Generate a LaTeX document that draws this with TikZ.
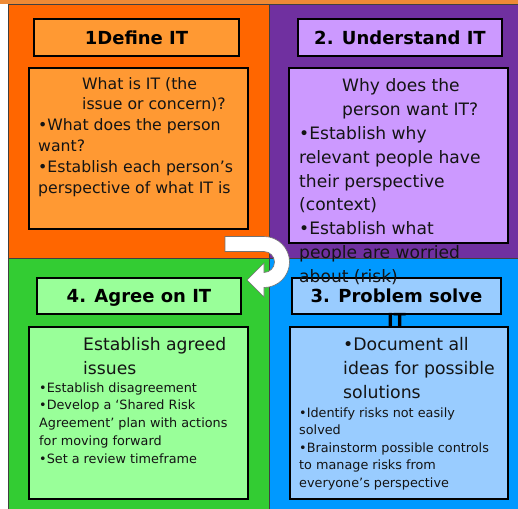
\documentclass[tikz,border=0pt]{standalone}
\usepackage{fontspec}
\setmainfont{DejaVu Sans}
\usetikzlibrary{positioning}

\definecolor{stripe}{HTML}{EE8A35}
\definecolor{orangeq}{HTML}{FF6600}
\definecolor{orangeb}{HTML}{FF9933}
\definecolor{purpleq}{HTML}{7030A0}
\definecolor{purpleb}{HTML}{CC99FF}
\definecolor{greenq}{HTML}{33CC33}
\definecolor{greenb}{HTML}{99FF99}
\definecolor{blueq}{HTML}{0099FF}
\definecolor{blueb}{HTML}{99CCFF}

\begin{document}
\begin{tikzpicture}[
	x=1pt,y=-1pt,
	quad/.style={
	  draw=black!75,
	  line width=1pt,
	  anchor=north west,
	  inner sep=0pt
	},
	titlebox/.style={
	  draw,
	  line width=2.2pt,
	  inner sep=0pt,
	  text height=13.1pt,
	  text depth=0pt,
	  font=\fontsize{18}{22}\selectfont\bfseries
	},
	bodybox/.style={
	  draw,
	  line width=2.2pt,
	  anchor=north west,
	  inner sep=0pt
	},
	txt/.style={
	  anchor=base west,
	  inner sep=0pt,
	  text=black!92
	}
]

\useasboundingbox (0,0) rectangle (518,508);
\fill[white] (0,0) rectangle (518,508);
\fill[stripe] (0,0) rectangle (518,4.5);

% quarters
\node[quad,fill=orangeq,minimum width=261pt,minimum height=254pt] 
  (q1) at (8,4) {};
\node[quad,fill=purpleq,minimum width=250pt,minimum height=254pt] 
  (q2) at (269,4) {};
\node[quad,fill=greenq,minimum width=261pt,minimum height=251pt] 
  (q4) at (8,258) {};
\node[quad,fill=blueq,minimum width=250pt,minimum height=251pt] 
  (q3) at (269,258) {};

% 1 define
\node[titlebox,fill=orangeb,minimum width=205pt,minimum height=37pt] 
  (h1) at (136.5,37.5) {1Define IT};
\node[bodybox,fill=orangeb,minimum width=219pt,minimum height=161pt] 
  (b1) at (28,67) {};
\node[txt] (t1) at (38,89) {\parbox[t]{250pt}{\raggedright
  \fontsize{15.7}{20.8}\selectfont
  \hspace*{44pt}What is IT (the\\
  \hspace*{44pt}issue or concern)?\\
  •What does the person\\
  want?\\
  •Establish each person’s\\
  perspective of what IT is}};

% 2 understand
\node[titlebox,fill=purpleb,minimum width=204pt,minimum height=37pt] 
  (h2) at (400,37.5) {2. Understand IT};
\node[bodybox,fill=purpleb,minimum width=219pt,minimum height=175pt] 
  (b2) at (288,67) {};

% 4 agree
\node[titlebox,fill=greenb,minimum width=204pt,minimum height=36pt] 
  (h4) at (139,296) {4. Agree on IT};
\node[bodybox,fill=greenb,minimum width=219pt,minimum height=172pt] 
  (b4) at (28,326) {};
\node[txt] (t4a) at (83,350) {\parbox[t]{200pt}{\raggedright
  \fontsize{17.2}{24}\selectfont
  Establish agreed\\
  issues}};
\node[txt] (t4b) at (39,392) {\parbox[t]{220pt}{\raggedright
  \fontsize{12.8}{17.8}\selectfont
  •Establish disagreement\\
  •Develop a ‘Shared Risk\\
  Agreement’ plan with actions\\
  for moving forward\\
  •Set a review timeframe}};

% 3 problem solve
\node[titlebox,fill=blueb,minimum width=209pt,minimum height=36pt] 
  (h3) at (396.5,296) {3. Problem solve};
\node[anchor=base,inner sep=0pt,font=\fontsize{18}{22}\selectfont\bfseries] 
  (h3it) at (396.5,326.5) {IT};
\node[bodybox,fill=blueb,minimum width=218pt,minimum height=172pt] 
  (b3) at (289,326) {};
\node[txt] (t3a) at (343,350) {\parbox[t]{200pt}{\raggedright
  \fontsize{17.3}{24}\selectfont
  •Document all\\
  ideas for possible\\
  solutions}};
\node[txt] (t3b) at (299,417) {\parbox[t]{220pt}{\raggedright
  \fontsize{12.8}{17.5}\selectfont
  •Identify risks not easily\\
  solved\\
  •Brainstorm possible controls\\
  to manage risks from\\
  everyone’s perspective}};

% text of 2 runs over
\node[txt] (t2) at (299,92) {\parbox[t]{250pt}{\raggedright
  \fontsize{17.1}{23.75}\selectfont
  \hspace*{43pt}Why does the\\
  \hspace*{43pt}person want IT?\\
  •Establish why\\
  relevant people have\\
  their perspective\\
  (context)\\
  •Establish what\\
  people are worried\\
  about (risk)}};

% turn arrow
\draw[fill=white,draw=black!55,line width=0.6pt] 
  (225,236.5) -- (264,236.5) 
  arc[start angle=-90,end angle=90,radius=25.5] 
  -- (264,297) -- (247,280) -- (264,263) -- (264,272.5) 
  arc[start angle=90,end angle=-90,radius=10.5] 
  -- (225,251.5) -- cycle;

\end{tikzpicture}
\end{document}
